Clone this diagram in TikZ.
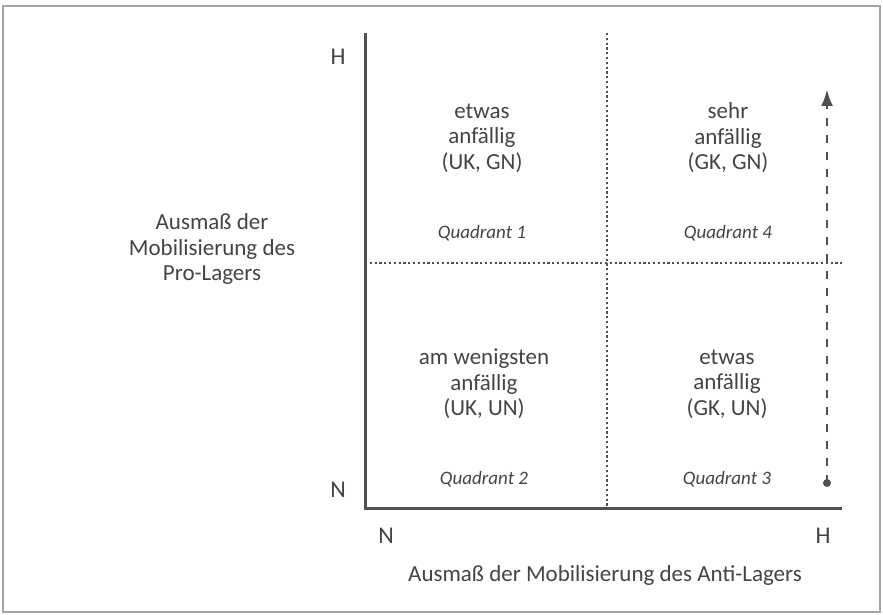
\documentclass[tikz,border=0pt]{standalone}
\usepackage{fontspec}
\setmainfont{Carlito}
\usetikzlibrary{arrows.meta}
\definecolor{axisgray}{RGB}{80,80,80}
\definecolor{labelgray}{RGB}{68,68,68}
\definecolor{framegray}{RGB}{165,165,165}
\newcommand{\quadcell}[5]{%
  \node[celltext] (#1) at (#2,#3) {#4};
  \node[quadlabel] (#1lab) at (#2,#3+95) {Quadrant #5};
}

\begin{document}
\begin{tikzpicture}[x=1pt,y=-1pt,
    celltext/.style={align=center,text=labelgray,font=\fontsize{23}{25.5}\selectfont},
    quadlabel/.style={text=labelgray,font=\fontsize{19}{20}\selectfont\itshape},
    axislabel/.style={text=labelgray,font=\fontsize{24}{26}\selectfont},
    dotline/.style={axisgray,line width=2.8pt,dash pattern=on 2.2pt off 2.6pt}]
  \useasboundingbox (0,0) rectangle (883,615);
  \draw[framegray,line width=1.5pt] (3,6) rectangle (880,612);
  % axes
  \coordinate (origin) at (365,508);
  \coordinate (ytop) at (365,33);
  \coordinate (xend) at (842,508);
  \draw[axisgray,line width=3pt] (ytop) -- (origin) -- (xend);
  % quadrant borders
  \coordinate (midtop) at (607,33);
  \coordinate (midbot) at (607,508);
  \coordinate (midleft) at (365,263);
  \coordinate (midright) at (842,263);
  \draw[dotline] (midtop) -- (midbot);
  \draw[dotline] (midleft) -- (midright);
  % dashed arrow
  \coordinate (arrbot) at (827,483);
  \coordinate (arrtop) at (827,89);
  \draw[axisgray,line width=2.8pt,dash pattern=on 8pt off 9pt,
    -{Latex[length=17pt,width=12pt]}] (arrbot) -- (arrtop);
  \fill[axisgray] (arrbot) circle[radius=4pt];
  % cells
  \quadcell{qone}{482}{138}{etwas\\anfällig\\(UK, GN)}{1}
  \quadcell{qfour}{728}{138}{sehr\\anfällig\\(GK, GN)}{4}
  \quadcell{qtwo}{484}{384}{am wenigsten\\anfällig\\(UK, UN)}{2}
  \quadcell{qthree}{727}{384}{etwas\\anfällig\\(GK, UN)}{3}
  % axis labels
  \node[axislabel] (yhigh) at (338,57) {H};
  \node[axislabel] (ylow) at (338,490) {N};
  \node[axislabel] (xlow) at (386,536) {N};
  \node[axislabel] (xhigh) at (823,536) {H};
  \node[celltext] (protitle) at (212,249) {Ausmaß der\\Mobilisierung des\\Pro-Lagers};
  \node[celltext] (antititle) at (605,575) {Ausmaß der Mobilisierung des Anti-Lagers};
\end{tikzpicture}
\end{document}
